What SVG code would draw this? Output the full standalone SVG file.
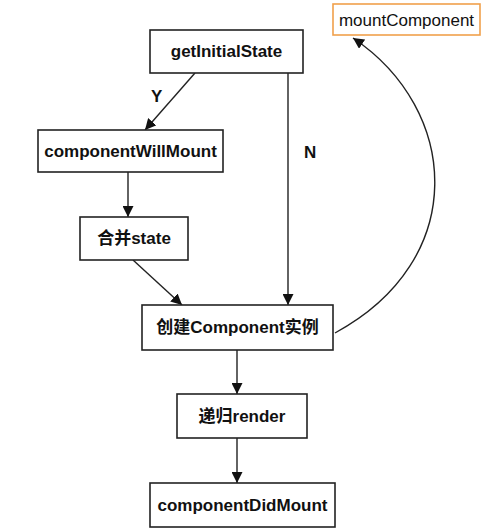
<svg xmlns="http://www.w3.org/2000/svg" width="500" height="530" viewBox="0 0 500 530">
  <style>
    .box { fill: #ffffff; stroke: #222222; stroke-width: 1.6; }
    .obox { fill: #ffffff; stroke: #f0a04b; stroke-width: 1.6; }
    .lbl { font-family: "Liberation Sans", "Noto Sans CJK SC", sans-serif; font-size: 17px; font-weight: bold; fill: #111111; text-anchor: middle; }
    .rlbl { font-family: "Liberation Sans", "Noto Sans CJK SC", sans-serif; font-size: 17px; fill: #111111; text-anchor: middle; }
    .edge { fill: none; stroke: #222222; stroke-width: 1.4; }
    .elbl { font-family: "Liberation Sans", sans-serif; font-size: 17px; font-weight: bold; fill: #111111; }
  </style>
  <defs>
    <marker id="arrow" viewBox="0 0 10 10" refX="10" refY="5" markerWidth="11" markerHeight="11" markerUnits="userSpaceOnUse" orient="auto">
      <path d="M0,0 L10,5 L0,10 Z" fill="#111111"/>
    </marker>
  </defs>
  <rect width="500" height="530" fill="#ffffff"/>

  <g id="connectors">
    <line class="edge" x1="195" y1="73" x2="145" y2="130" marker-end="url(#arrow)"/>
    <text class="elbl" x="151" y="102">Y</text>
    <line class="edge" x1="288" y1="73" x2="288" y2="305" marker-end="url(#arrow)"/>
    <text class="elbl" x="304" y="158">N</text>
    <line class="edge" x1="128" y1="172" x2="128" y2="217" marker-end="url(#arrow)"/>
    <line class="edge" x1="133" y1="260" x2="182" y2="305" marker-end="url(#arrow)"/>
    <line class="edge" x1="237" y1="350" x2="237" y2="394" marker-end="url(#arrow)"/>
    <line class="edge" x1="237" y1="438" x2="237" y2="483" marker-end="url(#arrow)"/>
    <path class="edge" d="M335,333 C470,260 460,110 353,38" marker-end="url(#arrow)"/>
  </g>

  <g id="getInitialState">
    <rect class="box" x="150" y="30" width="153" height="43"/>
    <text class="lbl" x="226.5" y="57">getInitialState</text>
  </g>
  <g id="mountComponent">
    <rect class="obox" x="333" y="4" width="147" height="31"/>
    <text class="rlbl" x="406.5" y="26">mountComponent</text>
  </g>
  <g id="componentWillMount">
    <rect class="box" x="38" y="130" width="185" height="42"/>
    <text class="lbl" x="130.5" y="157">componentWillMount</text>
  </g>
  <g id="mergeState">
    <rect class="box" x="80" y="217" width="108" height="43"/>
    <text class="lbl" x="134" y="244">合并state</text>
  </g>
  <g id="createInstance">
    <rect class="box" x="142" y="305" width="191" height="45"/>
    <text class="lbl" x="237.5" y="333">创建Component实例</text>
  </g>
  <g id="recursiveRender">
    <rect class="box" x="177" y="394" width="130" height="44"/>
    <text class="lbl" x="242" y="422">递归render</text>
  </g>
  <g id="componentDidMount">
    <rect class="box" x="150" y="483" width="185" height="44"/>
    <text class="lbl" x="242.5" y="511">componentDidMount</text>
  </g>
</svg>
